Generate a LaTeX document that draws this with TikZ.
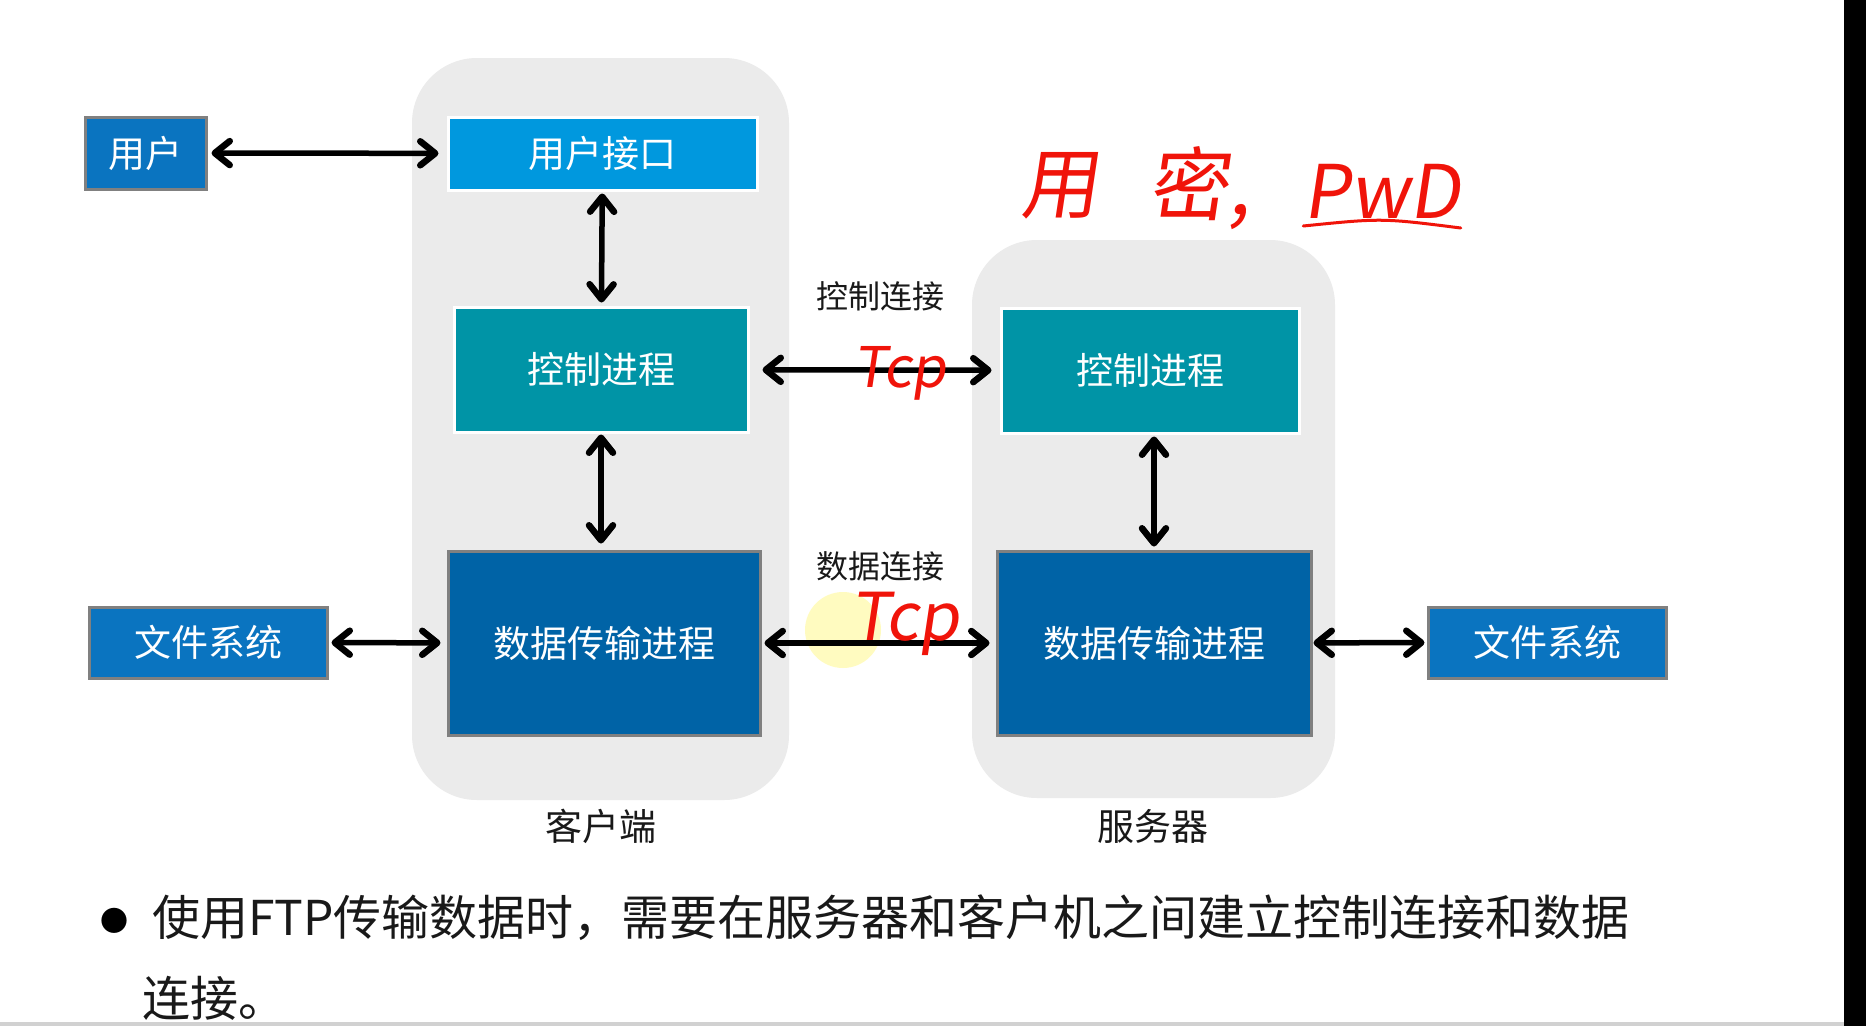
\documentclass[tikz,border=0pt]{standalone}
\usepackage{fontspec}
\setmainfont{Noto Sans CJK SC}
\newfontfamily\hw[FakeSlant=0.15]{Noto Sans CJK SC}
\usetikzlibrary{arrows.meta,calc}
\definecolor{userblue}{RGB}{10,116,192}
\definecolor{uiblue}{RGB}{0,152,222}
\definecolor{teal}{RGB}{0,148,166}
\definecolor{datablue}{RGB}{0,99,166}
\definecolor{regiongray}{RGB}{235,235,235}
\definecolor{edgegray}{RGB}{128,128,128}
\definecolor{inkred}{RGB}{240,20,10}
\newcommand{\fsz}[1]{\fontsize{#1}{#1}\selectfont}
\begin{document}
\begin{tikzpicture}[x=1pt,y=-1pt,
  box/.style={rectangle,inner sep=0pt,text=white,font=\fsz{37}},
  grayedge/.style={draw=edgegray,line width=3pt},
  whiteedge/.style={draw=white,line width=3pt},
  region/.style={fill=regiongray,rounded corners=65pt},
  lbl/.style={inner sep=0pt,text=black!90,font=\fsz{32}},
  conn/.style={line width=5.5pt,{Straight Barb[length=15pt,width=24pt,line width=6.5pt,round]}-{Straight Barb[length=15pt,width=24pt,line width=6.5pt,round]}},
  hand/.style={inner sep=0pt,text=inkred,font=\hw\fsz{#1}},
]
\useasboundingbox (0,0) rectangle (1866,1026);
\fill[white] (0,0) rectangle (1866,1026);
\fill[black] (1844,0) rectangle (1866,1026);
\fill[black!18] (0,1022) rectangle (1844,1026);

% regions
\fill[region] (412,58) rectangle (789,800);
\fill[region] (972,240) rectangle (1335,798);

% boxes
\node[box,grayedge,fill=userblue,minimum width=121pt,minimum height=72pt] (user) at (145.5,153) {用户};
\node[box,whiteedge,fill=uiblue,minimum width=309pt,minimum height=73pt] (ui) at (602.5,153.5) {用户接口};
\node[box,whiteedge,fill=teal,minimum width=294pt,minimum height=125pt] (cctrl) at (601,369.5) {控制进程};
\node[box,whiteedge,fill=teal,minimum width=298pt,minimum height=125pt] (sctrl) at (1150,370.5) {控制进程};
\node[box,grayedge,fill=datablue,minimum width=312pt,minimum height=184pt] (cdata) at (604,643) {数据传输进程};
\node[box,grayedge,fill=datablue,minimum width=314pt,minimum height=184pt] (sdata) at (1154,643) {数据传输进程};
\node[box,grayedge,fill=userblue,minimum width=238pt,minimum height=71pt] (fsl) at (208,642.5) {文件系统};
\node[box,grayedge,fill=userblue,minimum width=238pt,minimum height=71pt] (fsr) at (1547,642.5) {文件系统};

% labels
\node[lbl] (lctrl) at (880,296) {控制连接};
\node[lbl] (ldata) at (880,566) {数据连接};
\node[lbl,font=\fsz{37}] (lclient) at (601,826) {客户端};
\node[lbl,font=\fsz{37}] (lserver) at (1153,826) {服务器};

% cursor highlight
\fill[yellow!70,opacity=0.35] (843,630) circle[radius=38pt];

% connectors
\draw[conn,shorten <=4pt,shorten >=8pt] (user) -- (ui);
\draw[conn,shorten <=2pt,shorten >=3pt] (ui) -- (cctrl);
\draw[conn,shorten <=13pt,shorten >=8pt] (cctrl) -- (sctrl);
\draw[conn,shorten <=1pt,shorten >=6pt] (cctrl) -- (cctrl |- cdata.north);
\draw[conn,shorten <=2pt,shorten >=3pt] (sdata.north |- sctrl.south) -- (sdata.north);
\draw[conn,shorten <=3pt,shorten >=6pt] (fsl) -- (cdata);
\draw[conn,shorten <=3pt,shorten >=6pt] (cdata) -- (sdata);
\draw[conn,shorten <=1pt,shorten >=2pt] (sdata) -- (fsr);

% handwritten annotations
\node[hand=78] (h1) at (1059,186) {用};
\node[hand=80] (h2) at (1200,188) {密,};
\node[hand=74,anchor=base] (h3) at (1382,218) {PwD};
\draw[inkred,line width=3pt,line cap=round] ($(h3.base west)+(0,8)$) .. controls ($(h3.base)+(0,0)$) .. ($(h3.base east)+(0,10)$);
\node[hand=56,anchor=base] (t1) at (900,387) {Tcp};
\node[hand=66,anchor=base] (t2) at (905,640) {Tcp};

% bullet text
\node[inner sep=0pt,font=\fsz{28}] (bullet) at (114,921) {●};
\node[inner sep=0pt,anchor=west,text=black!90,font=\fsz{48}] (line1) at (152,918) {使用FTP传输数据时，需要在服务器和客户机之间建立控制连接和数据};
\node[inner sep=0pt,anchor=west,text=black!90,font=\fsz{48}] (line2) at (142,998) {连接。};
\end{tikzpicture}
\end{document}
